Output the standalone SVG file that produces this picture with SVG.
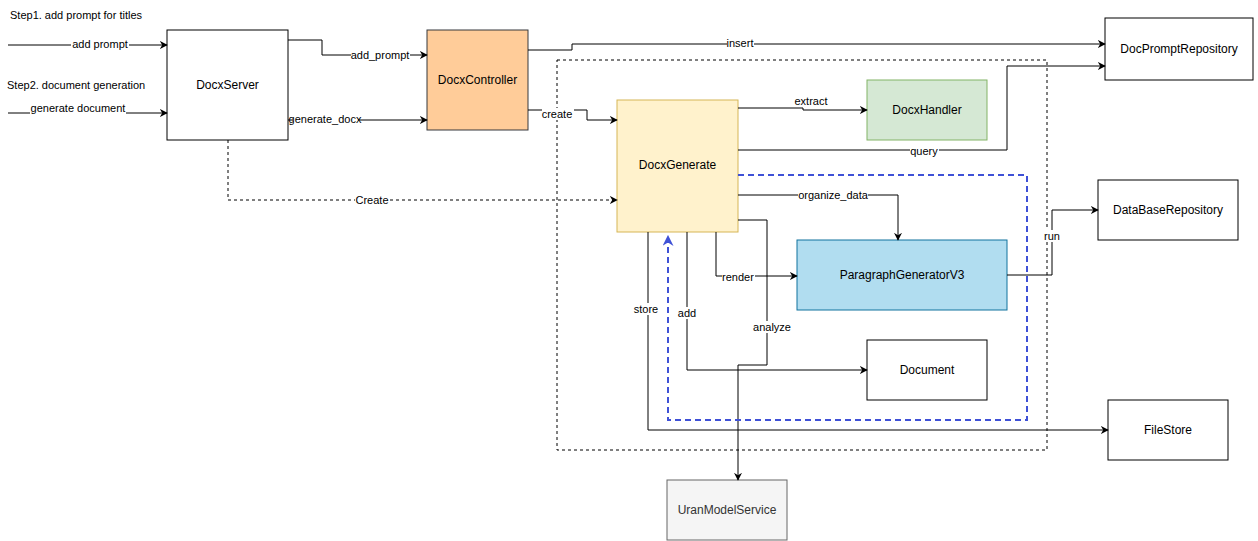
<svg xmlns="http://www.w3.org/2000/svg" width="1258" height="541" viewBox="0 0 1258 541">
<style>
text{font-family:"Liberation Sans",Arial,sans-serif;fill:#000}
.n{font-size:12px;text-anchor:middle;dominant-baseline:central}
.l{font-size:11px;text-anchor:middle;dominant-baseline:central}
.e{fill:none;stroke:#000;stroke-width:1}
.bg{fill:#fff}
</style>
<defs>
<marker id="a" viewBox="0 0 10 10" refX="9" refY="5" markerWidth="8" markerHeight="8" orient="auto" markerUnits="userSpaceOnUse"><path d="M0,0 L10,5 L0,10 L3,5 Z" fill="#000"/></marker>
<marker id="b" viewBox="0 0 10 10" refX="9" refY="5" markerWidth="11" markerHeight="11" orient="auto" markerUnits="userSpaceOnUse"><path d="M0,0 L10,5 L0,10 L3,5 Z" fill="#3f51d6"/></marker>
</defs>
<rect width="1258" height="541" fill="#fff"/>
<rect x="557" y="60" width="490" height="390" fill="none" stroke="#000" stroke-dasharray="3,3"/>
<text x="10" y="15" style="font-size:11px;dominant-baseline:central">Step1. add prompt for titles</text>
<text x="7" y="85" style="font-size:11px;dominant-baseline:central">Step2. document generation</text>
<g id="nodes">
<g id="DocxServer"><rect x="167" y="30" width="121" height="110" fill="#fff" stroke="#000"/><text class="n" x="227.5" y="85">DocxServer</text></g>
<g id="DocxController"><rect x="427" y="30" width="101" height="100" fill="#ffcc99" stroke="#36393d"/><text class="n" x="477.5" y="80">DocxController</text></g>
<g id="DocPromptRepository"><rect x="1105" y="18" width="148" height="62" fill="#fff" stroke="#000"/><text class="n" x="1179" y="49">DocPromptRepository</text></g>
<g id="DocxGenerate"><rect x="617" y="100" width="121" height="132" fill="#fff2cc" stroke="#d6b656"/><text class="n" x="677.5" y="165">DocxGenerate</text></g>
<g id="DocxHandler"><rect x="867" y="80" width="120" height="60" fill="#d5e8d4" stroke="#82b366"/><text class="n" x="927" y="110">DocxHandler</text></g>
<g id="ParagraphGeneratorV3"><rect x="797" y="240" width="210" height="70" fill="#b1ddf0" stroke="#10739e"/><text class="n" x="902" y="275">ParagraphGeneratorV3</text></g>
<g id="Document"><rect x="867" y="340" width="120" height="60" fill="#fff" stroke="#000"/><text class="n" x="927" y="370">Document</text></g>
<g id="DataBaseRepository"><rect x="1098" y="180" width="140" height="60" fill="#fff" stroke="#000"/><text class="n" x="1168" y="210">DataBaseRepository</text></g>
<g id="FileStore"><rect x="1108" y="400" width="120" height="60" fill="#fff" stroke="#000"/><text class="n" x="1168" y="430">FileStore</text></g>
<g id="UranModelService"><rect x="667" y="480" width="120" height="60" fill="#f5f5f5" stroke="#666"/><text class="n" x="727" y="510" style="fill:#333">UranModelService</text></g>
</g>
<g id="connectors">
<path class="e" d="M8,45 H167" marker-end="url(#a)"/>
<path class="e" d="M8,113 H167" marker-end="url(#a)"/>
<path class="e" d="M288,40 H322 V55 H427" marker-end="url(#a)"/>
<path class="e" d="M288,120 H427" marker-end="url(#a)"/>
<path class="e" d="M528,50 H572 V44 H1105" marker-end="url(#a)"/>
<path class="e" d="M528,110 H587 V120 H617" marker-end="url(#a)"/>
<path class="e" d="M228,140 V200 H617" stroke-dasharray="3,3" marker-end="url(#a)"/>
<path class="e" d="M738,108 H803 V110 H867" marker-end="url(#a)"/>
<path class="e" d="M738,150 H1007 V66 H1105" marker-end="url(#a)"/>
<path class="e" d="M738,195 H898 V240" marker-end="url(#a)"/>
<path class="e" d="M716,232 V276 H797" marker-end="url(#a)"/>
<path class="e" d="M738,220 H767 V365 H738 V480" marker-end="url(#a)"/>
<path class="e" d="M687,232 V370 H867" marker-end="url(#a)"/>
<path class="e" d="M648,232 V430 H1108" marker-end="url(#a)"/>
<path class="e" d="M1007,275 H1052 V210 H1098" marker-end="url(#a)"/>
<path d="M738,175 H1027 V420 H668 V236" fill="none" stroke="#3f51d6" stroke-width="2" stroke-dasharray="6,4" marker-end="url(#b)"/>
<rect class="bg" x="71" y="39" width="58" height="11"/><text class="l" x="100" y="44">add prompt</text>
<rect class="bg" x="30" y="103" width="96" height="11"/><text class="l" x="78" y="108">generate document</text>
<rect class="bg" x="351" y="49" width="59" height="12"/><text class="l" x="380" y="55">add_prompt</text>
<rect class="bg" x="293" y="114" width="65" height="12"/><text class="l" x="325" y="119">generate_docx</text>
<rect class="bg" x="727" y="38" width="27" height="12"/><text class="l" x="740" y="43">insert</text>
<rect class="bg" x="542" y="108" width="32" height="12"/><text class="l" x="557" y="114">create</text>
<rect class="bg" x="355" y="194" width="34" height="12"/><text class="l" x="372" y="200">Create</text>
<rect class="bg" x="793" y="95" width="36" height="12"/><text class="l" x="811" y="101">extract</text>
<rect class="bg" x="910" y="145" width="29" height="12"/><text class="l" x="924" y="151">query</text>
<rect class="bg" x="798" y="189" width="70" height="12"/><text class="l" x="833" y="195">organize_data</text>
<rect class="bg" x="722" y="271" width="33" height="12"/><text class="l" x="738" y="277">render</text>
<rect class="bg" x="753" y="321" width="38" height="12"/><text class="l" x="772" y="327">analyze</text>
<rect class="bg" x="678" y="307" width="19" height="12"/><text class="l" x="687" y="313">add</text>
<rect class="bg" x="632" y="303" width="28" height="12"/><text class="l" x="646" y="309">store</text>
<rect class="bg" x="1044" y="230" width="17" height="12"/><text class="l" x="1052" y="236">run</text>
</g>
</svg>
